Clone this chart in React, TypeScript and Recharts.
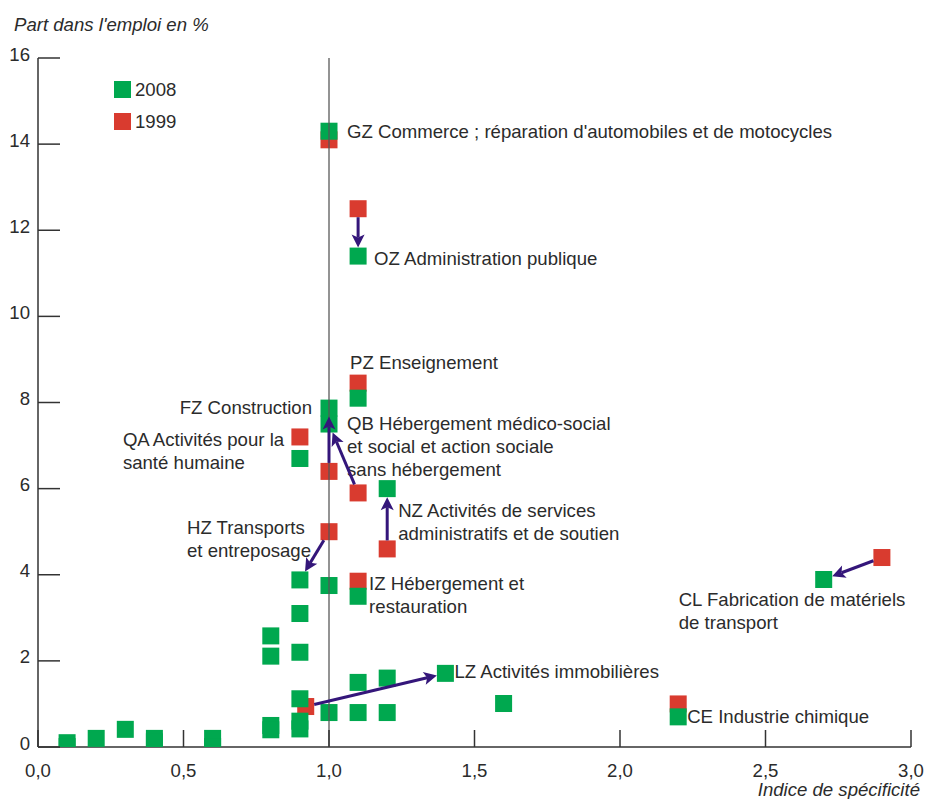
import { ScatterChart, Scatter, XAxis, YAxis, ReferenceLine } from "recharts";

// sectors with a label (1999 -> 2008)
const codes = ["GZ", "OZ", "PZ", "QA", "FZ", "QB", "NZ", "HZ", "IZ", "LZ", "CL", "CE"];
const names = [
  "GZ Commerce ; réparation d'automobiles et de motocycles",
  "OZ Administration publique",
  "PZ Enseignement",
  "QA Activités pour la|santé humaine",
  "FZ Construction",
  "QB Hébergement médico-social|et social et action sociale|sans hébergement",
  "NZ Activités de services|administratifs et de soutien",
  "HZ Transports|et entreposage",
  "IZ Hébergement et|restauration",
  "LZ Activités immobilières",
  "CL Fabrication de matériels|de transport",
  "CE Industrie chimique",
];
const spec1999 = [1.0, 1.1, 1.1, 0.9, 1.0, 1.1, 1.2, 1.0, 1.1, 0.92, 2.9, 2.2];
const share1999 = [14.1, 12.5, 8.45, 7.2, 6.4, 5.9, 4.6, 5.0, 3.85, 0.94, 4.4, 1.0];
const spec2008 = [1.0, 1.1, 1.1, 0.9, 1.0, 1.0, 1.2, 0.9, 1.1, 1.4, 2.7, 2.2];
const share2008 = [14.3, 11.4, 8.1, 6.7, 7.87, 7.5, 6.0, 3.88, 3.5, 1.71, 3.89, 0.7];

// other sectors, 2008 only
const otherSpec = [1.0, 0.1, 0.1, 0.2, 0.3, 0.4, 0.4, 0.6, 0.6, 0.8, 0.8, 0.8, 0.8, 0.9, 0.9, 0.9, 0.9, 0.9, 1.0, 1.1, 1.2, 1.1, 1.2, 1.6];
const otherShare = [3.75, 0.1, 0.01, 0.2, 0.41, 0.2, 0.12, 0.2, 0.01, 2.58, 2.11, 0.5, 0.4, 3.1, 2.2, 1.12, 0.6, 0.42, 0.8, 0.8, 0.8, 1.5, 1.6, 1.01];

const arrowCodes = ["OZ", "FZ", "QB", "NZ", "HZ", "LZ", "CL"];
const xTicks = [0, 0.5, 1, 1.5, 2, 2.5, 3];
const yTicks = [0, 2, 4, 6, 8, 10, 12, 14, 16];

const GREEN = "#00a84f";
const RED = "#d93b2f";
const ARROW = "#34167a";
const TEXT = "#2b2b2b";
const FONT = "'Liberation Sans', Arial, sans-serif";
const FS = 18.6;
const SQ = 17;

// where each label sits relative to one of its points (pixels)
const placement: Record<string, { from: "1999" | "2008"; dx: number; dy: number; anchor: "start" | "end" }> = {
  GZ: { from: "2008", dx: 18, dy: 0, anchor: "start" },
  OZ: { from: "2008", dx: 16, dy: 2, anchor: "start" },
  PZ: { from: "1999", dx: -8, dy: -21, anchor: "start" },
  QA: { from: "1999", dx: -177, dy: 3, anchor: "start" },
  FZ: { from: "2008", dx: -17, dy: -1, anchor: "end" },
  QB: { from: "2008", dx: 18, dy: -1, anchor: "start" },
  NZ: { from: "2008", dx: 11, dy: 22, anchor: "start" },
  HZ: { from: "1999", dx: -142, dy: -4, anchor: "start" },
  IZ: { from: "2008", dx: 11, dy: -13, anchor: "start" },
  LZ: { from: "2008", dx: 9, dy: -2, anchor: "start" },
  CL: { from: "2008", dx: -145, dy: 20, anchor: "start" },
  CE: { from: "2008", dx: 9, dy: 0, anchor: "start" },
};

const data1999 = codes.map((c, i) => ({ code: c, x: spec1999[i], y: share1999[i] }));
const data2008 = [
  ...codes.map((c, i) => ({ code: c, x: spec2008[i], y: share2008[i] })),
  ...otherSpec.map((x, i) => ({ code: "", x, y: otherShare[i] })),
];
const labelData = codes.map((c, i) => {
  const p = placement[c];
  return p.from === "1999"
    ? { code: c, name: names[i], x: spec1999[i], y: share1999[i] }
    : { code: c, name: names[i], x: spec2008[i], y: share2008[i] };
});

const square = (fill: string) => (props: any) => (
  <rect x={props.cx - SQ / 2} y={props.cy - SQ / 2} width={SQ} height={SQ} fill={fill} />
);

const labelShape = (props: any) => {
  const p = placement[props.payload.code];
  const lines = String(props.payload.name).split("|");
  return (
    <g>
      {lines.map((l, k) => (
        <text key={k} x={props.cx + p.dx} y={props.cy + p.dy + k * 23} dy="0.35em"
          textAnchor={p.anchor} fontSize={FS} fontFamily={FONT} fill={TEXT}>
          {l}
        </text>
      ))}
    </g>
  );
};

const arrowShape = (props: any) => {
  const { x1, y1, x2, y2 } = props;
  const len = Math.hypot(x2 - x1, y2 - y1);
  const ux = (x2 - x1) / len, uy = (y2 - y1) / len;
  const edge = SQ / 2 / Math.max(Math.abs(ux), Math.abs(uy));
  const sx = x1 + ux * edge, sy = y1 + uy * edge;
  const tx = x2 - ux * edge, ty = y2 - uy * edge;
  const head = 13, hw = 6.5;
  const bx = tx - ux * head, by = ty - uy * head;
  const nx = bx + ux * 3, ny = by + uy * 3;
  const px = -uy, py = ux;
  return (
    <g>
      <line x1={sx} y1={sy} x2={nx} y2={ny} stroke={ARROW} strokeWidth={3} />
      <polygon
        points={`${tx},${ty} ${bx + px * hw},${by + py * hw} ${nx},${ny} ${bx - px * hw},${by - py * hw}`}
        fill={ARROW}
      />
    </g>
  );
};

const YTick = (props: any) => {
  const { x, y, payload } = props;
  return (
    <g>
      <line x1={x} x2={x + 22} y1={y} y2={y} stroke="#333" strokeWidth={1.5} />
      <text x={x - 8} y={y - 4} dy="0.35em" textAnchor="end" fontSize={FS} fontFamily={FONT} fill={TEXT}>
        {payload.value}
      </text>
    </g>
  );
};

const XTick = (props: any) => {
  const { x, y, payload } = props;
  return (
    <g>
      <line x1={x} x2={x} y1={y} y2={y - 17} stroke="#333" strokeWidth={1.5} />
      <text x={x} y={y + 23} dy="0.35em" textAnchor="middle" fontSize={FS} fontFamily={FONT} fill={TEXT}>
        {Number(payload.value).toFixed(1).replace(".", ",")}
      </text>
    </g>
  );
};

export default function App() {
  return (
    <div style={{ position: "absolute", left: 0, top: 0, width: 925, height: 799, background: "#fff", fontFamily: FONT }}>
      <ScatterChart width={925} height={799} margin={{ top: 58, right: 14, bottom: 0, left: 0 }}>
        <XAxis type="number" dataKey="x" domain={[0, 3]} ticks={xTicks} height={52}
          axisLine={{ stroke: "#333", strokeWidth: 1.5 }} tickLine={false} tickSize={0} tickMargin={0}
          tick={XTick} interval={0} allowDataOverflow />
        <YAxis type="number" dataKey="y" domain={[0, 16]} ticks={yTicks} width={38}
          axisLine={{ stroke: "#333", strokeWidth: 1.5 }} tickLine={false} tickSize={0} tickMargin={0}
          tick={YTick} interval={0} allowDataOverflow />
        <Scatter name="1999" data={data1999} shape={square(RED)} isAnimationActive={false} />
        <Scatter name="2008" data={data2008} shape={square(GREEN)} isAnimationActive={false} />
        <ReferenceLine x={1} stroke="#555" strokeWidth={1.5} strokeOpacity={0.85} zIndex={650} />
        {arrowCodes.map((c) => {
          const i = codes.indexOf(c);
          return (
            <ReferenceLine key={c} zIndex={700}
              segment={[{ x: spec1999[i], y: share1999[i] }, { x: spec2008[i], y: share2008[i] }]}
              shape={arrowShape} />
          );
        })}
        <Scatter name="labels" data={labelData} shape={labelShape} isAnimationActive={false} legendType="none" />
      </ScatterChart>

      <div style={{ position: "absolute", left: 14, top: 14, fontSize: FS, fontStyle: "italic", color: TEXT, lineHeight: "22px" }}>
        Part dans l'emploi en %
      </div>
      <div style={{ position: "absolute", right: 5, top: 779, fontSize: FS, fontStyle: "italic", color: TEXT, lineHeight: "22px" }}>
        Indice de spécificité
      </div>

      {[{ label: "2008", color: GREEN, top: 81 }, { label: "1999", color: RED, top: 113 }].map((l) => (
        <div key={l.label} style={{ position: "absolute", left: 114, top: l.top, display: "flex", alignItems: "center" }}>
          <span style={{ width: SQ, height: SQ, background: l.color, display: "inline-block" }} />
          <span style={{ marginLeft: 4, fontSize: FS, color: TEXT, lineHeight: "17px" }}>{l.label}</span>
        </div>
      ))}
    </div>
  );
}
